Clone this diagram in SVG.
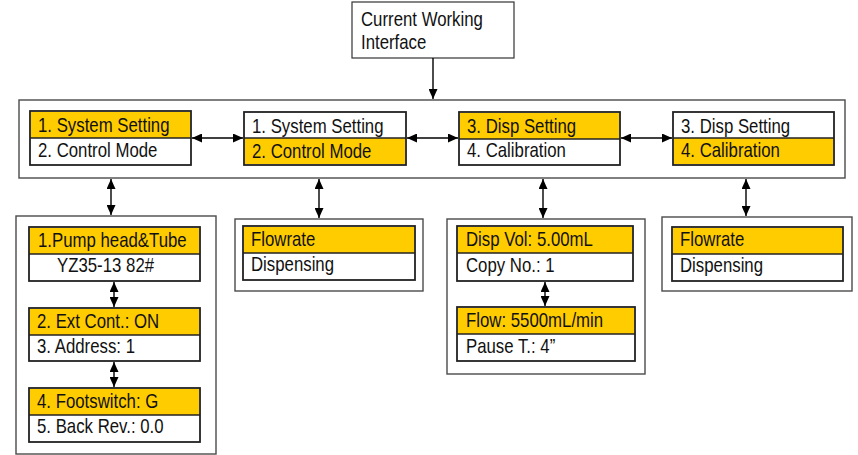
<svg xmlns="http://www.w3.org/2000/svg" width="858" height="455" viewBox="0 0 858 455">
<style>
.bg{fill:#fff}
.outer{fill:#fff;stroke:#4a4a4a;stroke-width:1.4}
.box{fill:#fff;stroke:#222;stroke-width:1.8}
.hi{fill:#FFCC00}
.dv{stroke:#222;stroke-width:1.5}
.t{font-family:"Liberation Sans",Arial,sans-serif;font-size:20px;fill:#111}
.c{stroke:#000;stroke-width:1.4;fill:none}
</style>
<defs>
<marker id="ah" markerUnits="userSpaceOnUse" markerWidth="10" markerHeight="9" refX="10" refY="4.5" orient="auto-start-reverse">
<path d="M0,0 L10,4.5 L0,9 z" fill="#000"/>
</marker>
</defs>
<rect class="bg" x="0" y="0" width="858" height="455"/>

<g id="current">
<rect x="352" y="2" width="162" height="56" fill="#fff" stroke="#333" stroke-width="1.2"/>
<text class="t" transform="translate(361,26) scale(0.84,1)">Current Working</text>
<text class="t" transform="translate(361,49) scale(0.84,1)">Interface</text>
</g>

<g id="menu">
<rect class="outer" x="19" y="100" width="826" height="78"/>
</g>

<g id="menu1">
<rect class="box" x="30" y="111" width="161" height="54"/>
<rect class="hi" x="31" y="112" width="159" height="26"/>
<line class="dv" x1="30" y1="138" x2="191" y2="138"/>
<text class="t" transform="translate(38,132) scale(0.84,1)">1. System Setting</text>
<text class="t" transform="translate(38,157) scale(0.84,1)">2. Control Mode</text>
</g>

<g id="menu2">
<rect class="box" x="244" y="112" width="162" height="53"/>
<rect class="hi" x="245" y="138" width="160" height="26"/>
<line class="dv" x1="244" y1="138" x2="406" y2="138"/>
<text class="t" transform="translate(252,133) scale(0.84,1)">1. System Setting</text>
<text class="t" transform="translate(252,158) scale(0.84,1)">2. Control Mode</text>
</g>

<g id="menu3">
<rect class="box" x="459" y="112" width="161" height="53"/>
<rect class="hi" x="460" y="113" width="159" height="26"/>
<line class="dv" x1="459" y1="139" x2="620" y2="139"/>
<text class="t" transform="translate(467,133) scale(0.84,1)">3. Disp Setting</text>
<text class="t" transform="translate(467,157) scale(0.84,1)">4. Calibration</text>
</g>

<g id="menu4">
<rect class="box" x="673" y="112" width="161" height="53"/>
<rect class="hi" x="674" y="138" width="159" height="26"/>
<line class="dv" x1="673" y1="138" x2="834" y2="138"/>
<text class="t" transform="translate(681,133) scale(0.84,1)">3. Disp Setting</text>
<text class="t" transform="translate(681,157) scale(0.84,1)">4. Calibration</text>
</g>

<g id="sub1">
<rect class="outer" x="16" y="216" width="200" height="238"/>
<rect class="box" x="29" y="227" width="171" height="54"/>
<rect class="hi" x="30" y="228" width="169" height="26"/>
<line class="dv" x1="29" y1="254" x2="200" y2="254"/>
<text class="t" transform="translate(38,247) scale(0.84,1)">1.Pump head&amp;Tube</text>
<text class="t" transform="translate(57,272) scale(0.84,1)">YZ35-13 82#</text>
<rect class="box" x="29" y="308" width="171" height="53"/>
<rect class="hi" x="30" y="309" width="169" height="26"/>
<line class="dv" x1="29" y1="335" x2="200" y2="335"/>
<text class="t" transform="translate(37,328) scale(0.84,1)">2. Ext Cont.: ON</text>
<text class="t" transform="translate(37,353) scale(0.84,1)">3. Address: 1</text>
<rect class="box" x="29" y="388" width="171" height="54"/>
<rect class="hi" x="30" y="389" width="169" height="26"/>
<line class="dv" x1="29" y1="415" x2="200" y2="415"/>
<text class="t" transform="translate(37,408) scale(0.84,1)">4. Footswitch: G</text>
<text class="t" transform="translate(37,433) scale(0.84,1)">5. Back Rev.: 0.0</text>
</g>

<g id="sub2">
<rect class="outer" x="235" y="219" width="188" height="72"/>
<rect class="box" x="243" y="226" width="172" height="54"/>
<rect class="hi" x="244" y="227" width="170" height="26"/>
<line class="dv" x1="243" y1="253" x2="415" y2="253"/>
<text class="t" transform="translate(251,246) scale(0.84,1)">Flowrate</text>
<text class="t" transform="translate(251,271) scale(0.84,1)">Dispensing</text>
</g>

<g id="sub3">
<rect class="outer" x="447" y="219" width="198" height="155"/>
<rect class="box" x="457" y="226" width="176" height="55"/>
<rect class="hi" x="458" y="227" width="174" height="26"/>
<line class="dv" x1="457" y1="253" x2="633" y2="253"/>
<text class="t" transform="translate(466,246) scale(0.84,1)">Disp Vol: 5.00mL</text>
<text class="t" transform="translate(466,272) scale(0.84,1)">Copy No.: 1</text>
<rect class="box" x="457" y="307" width="178" height="54"/>
<rect class="hi" x="458" y="308" width="176" height="26"/>
<line class="dv" x1="457" y1="334" x2="635" y2="334"/>
<text class="t" transform="translate(466,327) scale(0.84,1)">Flow: 5500mL/min</text>
<text class="t" transform="translate(466,353) scale(0.84,1)">Pause T.: 4”</text>
</g>

<g id="sub4">
<rect class="outer" x="662" y="217" width="190" height="74"/>
<rect class="box" x="672" y="227" width="171" height="54"/>
<rect class="hi" x="673" y="228" width="169" height="26"/>
<line class="dv" x1="672" y1="254" x2="843" y2="254"/>
<text class="t" transform="translate(680,246) scale(0.84,1)">Flowrate</text>
<text class="t" transform="translate(680,272) scale(0.84,1)">Dispensing</text>
</g>

<g id="connectors">
<line class="c" x1="433" y1="58" x2="433" y2="99" marker-end="url(#ah)"/>
<line class="c" x1="192" y1="138" x2="243" y2="138" marker-start="url(#ah)" marker-end="url(#ah)"/>
<line class="c" x1="407" y1="138" x2="458" y2="138" marker-start="url(#ah)" marker-end="url(#ah)"/>
<line class="c" x1="621" y1="138" x2="672" y2="138" marker-start="url(#ah)" marker-end="url(#ah)"/>
<line class="c" x1="111" y1="179" x2="111" y2="215" marker-start="url(#ah)" marker-end="url(#ah)"/>
<line class="c" x1="319" y1="179" x2="319" y2="218" marker-start="url(#ah)" marker-end="url(#ah)"/>
<line class="c" x1="543" y1="179" x2="543" y2="218" marker-start="url(#ah)" marker-end="url(#ah)"/>
<line class="c" x1="746" y1="179" x2="746" y2="216" marker-start="url(#ah)" marker-end="url(#ah)"/>
<line class="c" x1="114" y1="282" x2="114" y2="307" marker-start="url(#ah)" marker-end="url(#ah)"/>
<line class="c" x1="114" y1="362" x2="114" y2="387" marker-start="url(#ah)" marker-end="url(#ah)"/>
<line class="c" x1="545" y1="282" x2="545" y2="306" marker-start="url(#ah)" marker-end="url(#ah)"/>
</g>
</svg>
